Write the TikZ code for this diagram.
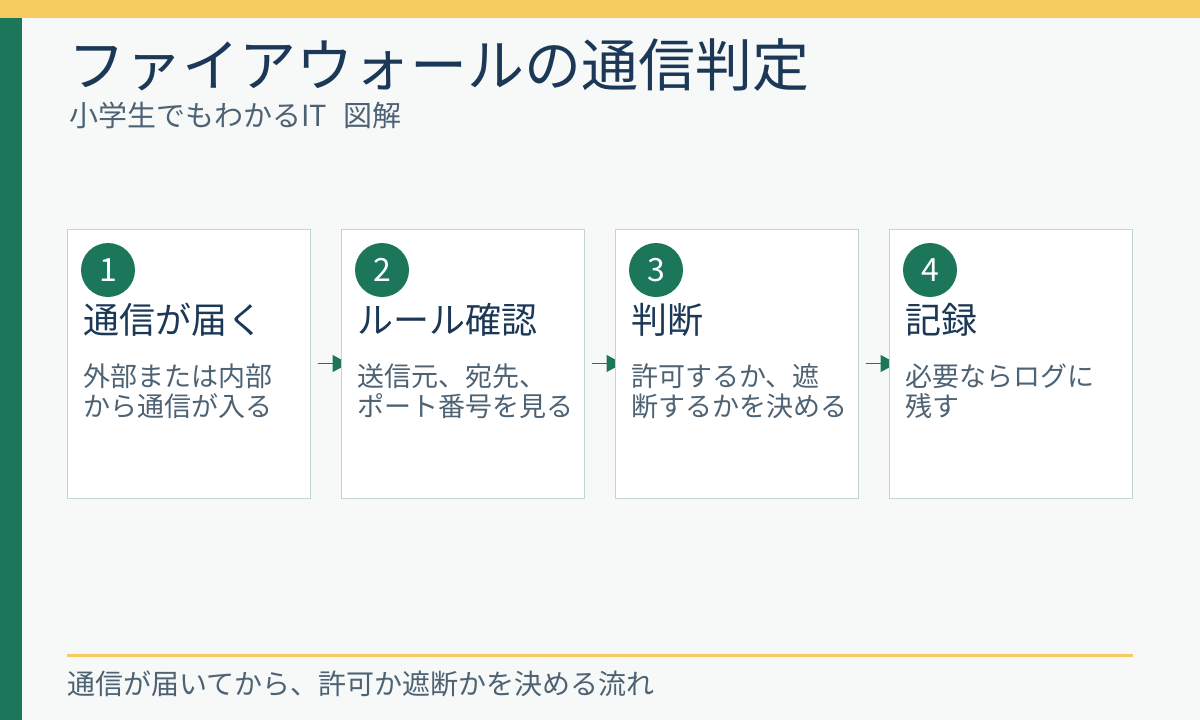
\documentclass[tikz,border=0pt]{standalone}
\usepackage{fontspec}
\setmainfont{Noto Sans CJK JP}
\usepackage{xcolor}
\definecolor{fwgreen}{HTML}{1B765A}
\definecolor{fwnavy}{HTML}{1C3857}
\definecolor{fwgray}{HTML}{4D6273}
\definecolor{fwyellow}{HTML}{F5CB5F}
\definecolor{fwline}{HTML}{C2D6D0}
\definecolor{fwback}{HTML}{F7F9F9}
\usetikzlibrary{positioning}
\usetikzlibrary{arrows.meta}
\pgfdeclarelayer{back}
\pgfdeclarelayer{flow}
\pgfsetlayers{back,flow,main}

\begin{document}
\begin{tikzpicture}[x=1pt,y=-1pt,
    stepbox/.style={draw=fwline, line width=1pt, fill=white, minimum width=243pt, minimum height=269pt, inner sep=0},
    stepnum/.style={circle, fill=fwgreen, text=white, minimum size=54pt, inner sep=0, font=\fontsize{32}{34}\selectfont},
    stephead/.style={anchor=base west, inner sep=0, text=fwnavy, font=\fontsize{36}{40}\selectfont},
    stepbody/.style={anchor=base west, inner sep=0, align=left, text=fwgray, font=\fontsize{27}{30}\selectfont}]
	% background and bars
	\begin{pgfonlayer}{back}
	\fill[fwback] (0,0) rectangle (1200,720);
	\end{pgfonlayer}
	\useasboundingbox (0,0) rectangle (1200,720);
	\fill[fwyellow] (0,0) rectangle (1200,18);
	\fill[fwgreen] (0,18) rectangle (22,720);

	\node[anchor=base west, inner sep=0, text=fwnavy, font=\fontsize{57}{60}\selectfont] (title) at (68,86) {ファイアウォールの通信判定};
	\node[anchor=base west, inner sep=0, text=fwgray, font=\fontsize{29}{32}\selectfont] (sub) at (69,126) {小学生でもわかるIT\hspace{16pt}図解};

	\begin{scope}
	    \node[stepbox] (S1) at (188.5,363.5) {};
	    \node[stepbox] (S2) at (462.5,363.5) {};
	    \node[stepbox] (S3) at (736.5,363.5) {};
	    \node[stepbox] (S4) at (1010.5,363.5) {};
	\end{scope}

	\node[stepnum] (N1) at (108,270) {1};
	\node[stepnum] (N2) at (382,270) {2};
	\node[stepnum] (N3) at (656,270) {3};
	\node[stepnum] (N4) at (930,270) {4};

	\node[stephead] (H1) at (83,333) {通信が届く};
	\node[stephead] (H2) at (357,333) {ルール確認};
	\node[stephead] (H3) at (631,333) {判断};
	\node[stephead] (H4) at (905,333) {記録};

	% base = last line
	\node[stepbody] (B1) at (83,416) {外部または内部\\から通信が入る};
	\node[stepbody] (B2) at (357,416) {送信元、宛先、\\ポート番号を見る};
	\node[stepbody] (B3) at (631,416) {許可するか、遮\\断するかを決める};
	\node[stepbody] (B4) at (905,416) {必要ならログに\\残す};

	% arrow tips run under the next box
	\begin{pgfonlayer}{flow}
	\begin{scope}[>={Triangle[length=16pt,width=17pt]},
	              every edge/.style={draw=fwgreen, fill=fwgreen, line width=1.3pt, shorten <=7pt, shorten >=-8pt}]
	    \path [->] (S1) edge (S2);
	    \path [->] (S2) edge (S3);
	    \path [->] (S3) edge (S4);
	\end{scope}
	\end{pgfonlayer}

	% footer
	\coordinate (FL) at (67,655);
	\coordinate (FR) at (1133,655);
	\draw[fwyellow, line width=3pt] (FL) -- (FR);
	\node[anchor=base west, inner sep=0, text=fwgray, font=\fontsize{28}{32}\selectfont] (foot) at (67,694) {通信が届いてから、許可か遮断かを決める流れ};
\end{tikzpicture}
\end{document}
